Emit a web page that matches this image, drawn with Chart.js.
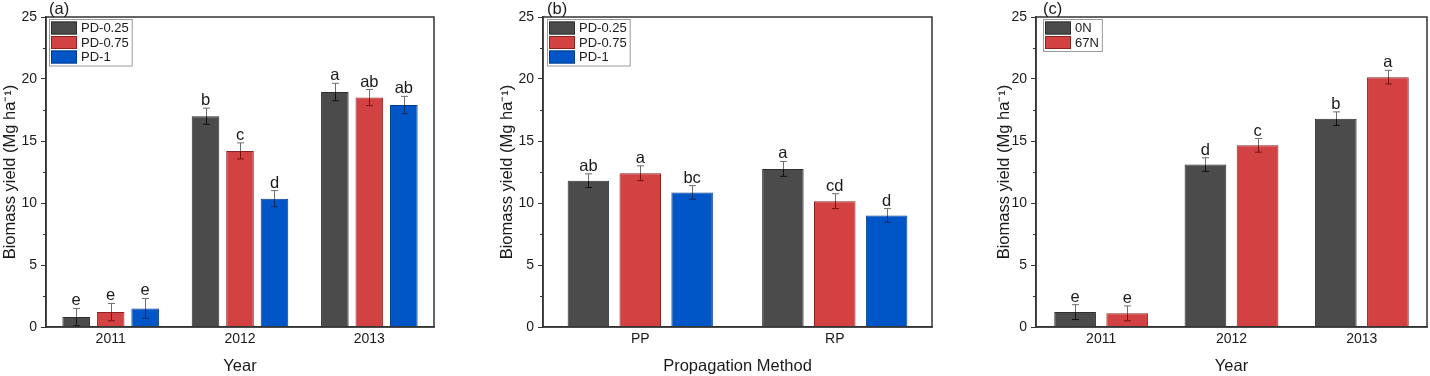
<!DOCTYPE html>
<html>
<head>
<meta charset="utf-8">
<script src="https://cdn.jsdelivr.net/npm/chart.js@4"></script>
<style>
  html, body { margin: 0; padding: 0; background: #fff; }
  #wrap { position: relative; width: 1430px; height: 376px; }
  canvas { position: absolute; top: 0; }
</style>
</head>
<body>
<div id="wrap">
  <canvas id="chart-a" width="470" height="376" style="left:0px"></canvas>
  <canvas id="chart-b" width="480" height="376" style="left:480px"></canvas>
  <canvas id="chart-c" width="470" height="376" style="left:960px"></canvas>
</div>
<script>
// categories
const yearLabels = ['2011', '2012', '2013'];
const methodLabels = ['PP', 'RP'];
const yTickValues = [0, 5, 10, 15, 20, 25];

// panel (a): planting density by year
const yieldA_pd025 = [0.8, 17.0, 18.95];
const yieldA_pd075 = [1.2, 14.2, 18.5];
const yieldA_pd1 = [1.5, 10.35, 17.9];
const errA_pd025 = [0.7, 0.65, 0.7];
const errA_pd075 = [0.7, 0.65, 0.65];
const errA_pd1 = [0.8, 0.65, 0.7];
const lettersA_pd025 = ['e', 'b', 'a'];
const lettersA_pd075 = ['e', 'c', 'ab'];
const lettersA_pd1 = ['e', 'd', 'ab'];

// panel (b): planting density by propagation method
const yieldB_pd025 = [11.8, 12.75];
const yieldB_pd075 = [12.4, 10.15];
const yieldB_pd1 = [10.85, 9.0];
const errB_pd025 = [0.55, 0.6];
const errB_pd075 = [0.6, 0.6];
const errB_pd1 = [0.55, 0.55];
const lettersB_pd025 = ['ab', 'a'];
const lettersB_pd075 = ['a', 'cd'];
const lettersB_pd1 = ['bc', 'd'];

// panel (c): nitrogen rate by year
const yieldC_0N = [1.2, 13.1, 16.8];
const yieldC_67N = [1.1, 14.65, 20.15];
const errC_0N = [0.6, 0.55, 0.55];
const errC_67N = [0.6, 0.55, 0.55];
const lettersC_0N = ['e', 'd', 'b'];
const lettersC_67N = ['e', 'c', 'a'];

const FONT = "'Liberation Sans', Arial, sans-serif";
const TEXT = '#1a1a1a';
const AXIS = '#333';

const styles = {
    grey: { fill: '#4b4b4b', border: '#2e2e2e', err: '#111' },
    red: { fill: '#d34242', border: '#8c2222', err: '#7a1010' },
    blue: { fill: '#0056c6', border: '#003b8a', err: '#0a2a66' }
};

const makeSet = (label, data, errors, letters, style) => ({
    label: label,
    data: data,
    errors: errors,
    letters: letters,
    errColor: style.err,
    backgroundColor: style.fill,
    borderColor: style.border,
    borderWidth: 1,
    borderSkipped: 'bottom'
});

// error bars, significance letters, frame, minor ticks, legend box, panel tag
const decorPlugin = {
    id: 'decor',
    afterDatasetsDraw(chart) {
        const ctx = chart.ctx;
        const y = chart.scales.y;
        chart.data.datasets.forEach((ds, i) => {
            const meta = chart.getDatasetMeta(i);
            meta.data.forEach((bar, j) => {
                const v = ds.data[j];
                const e = ds.errors[j];
                const x = Math.round(bar.x) + 0.5;
                const top = y.getPixelForValue(v + e);
                const bot = y.getPixelForValue(Math.max(v - e, 0));
                const barTop = bar.y;
                ctx.save();
                ctx.lineWidth = 1;
                // part inside the bar
                ctx.strokeStyle = ds.errColor;
                ctx.beginPath();
                ctx.moveTo(x, barTop);
                ctx.lineTo(x, bot);
                ctx.moveTo(x - 3.5, bot);
                ctx.lineTo(x + 3.5, bot);
                ctx.stroke();
                // part above the bar
                ctx.strokeStyle = '#6e6e6e';
                ctx.beginPath();
                ctx.moveTo(x, top);
                ctx.lineTo(x, barTop);
                ctx.moveTo(x - 3.5, top);
                ctx.lineTo(x + 3.5, top);
                ctx.stroke();
                // letter
                ctx.fillStyle = TEXT;
                ctx.font = '16.5px ' + FONT;
                ctx.textAlign = 'center';
                ctx.textBaseline = 'alphabetic';
                ctx.fillText(ds.letters[j], bar.x, top - 3);
                ctx.restore();
            });
        });
    },
    afterDraw(chart, args, opts) {
        const ctx = chart.ctx;
        const area = chart.chartArea;
        const y = chart.scales.y;
        ctx.save();
        // minor ticks
        ctx.strokeStyle = AXIS;
        ctx.lineWidth = 1;
        ctx.beginPath();
        for (let v = 2.5; v < 25; v += 5) {
            const py = Math.round(y.getPixelForValue(v)) + 0.5;
            ctx.moveTo(area.left - 3, py);
            ctx.lineTo(area.left, py);
        }
        ctx.stroke();
        // frame
        ctx.lineWidth = 1.5;
        ctx.strokeRect(area.left, area.top, area.right - area.left, area.bottom - area.top);

        // legend box
        ctx.font = '13px ' + FONT;
        const lx = area.left + opts.legendDx;
        const ly = area.top + 2;
        const rowH = 14.5;
        const textW = Math.max(...chart.data.datasets.map(d => ctx.measureText(d.label).width));
        const boxW = 2 + 26 + 4 + textW + 3;
        const boxH = chart.data.datasets.length * rowH + 3;
        ctx.fillStyle = '#fff';
        ctx.fillRect(lx, ly, boxW, boxH);
        ctx.strokeStyle = '#9a9a9a';
        ctx.lineWidth = 1;
        ctx.strokeRect(lx + 0.5, ly + 0.5, boxW, boxH);
        chart.data.datasets.forEach((d, i) => {
            const ry = ly + 2.5 + i * rowH;
            ctx.fillStyle = d.backgroundColor;
            ctx.fillRect(lx + 2, ry, 26, 13);
            ctx.strokeStyle = d.borderColor;
            ctx.strokeRect(lx + 2.5, ry + 0.5, 25, 12);
            ctx.fillStyle = TEXT;
            ctx.textAlign = 'left';
            ctx.textBaseline = 'middle';
            ctx.fillText(d.label, lx + 32, ry + 7);
        });

        // panel tag
        ctx.font = '16.5px ' + FONT;
        ctx.fillStyle = TEXT;
        ctx.textAlign = 'left';
        ctx.textBaseline = 'middle';
        ctx.fillText(opts.tag, lx, 9);
        ctx.restore();
    }
};

const makeChart = (id, labels, datasets, xTitle, cfg) => {
    return new Chart(document.getElementById(id), {
        type: 'bar',
        data: { labels: labels, datasets: datasets },
        plugins: [decorPlugin],
        options: {
            responsive: false,
            animation: false,
            events: [],
            layout: { padding: { left: 0, top: 17, right: cfg.padRight, bottom: 0 } },
            datasets: { bar: { categoryPercentage: 0.8, barPercentage: 0.8 } },
            plugins: {
                legend: { display: false },
                tooltip: { enabled: false },
                decor: { tag: cfg.tag, legendDx: cfg.legendDx }
            },
            scales: {
                x: {
                    afterFit: (scale) => { scale.height = 49; },
                    grid: { display: false },
                    border: { display: true, color: AXIS, width: 1.5 },
                    ticks: { color: TEXT, font: { family: FONT, size: 14 }, padding: -4 },
                    title: {
                        display: true,
                        text: xTitle,
                        color: TEXT,
                        font: { family: FONT, size: 16.5 },
                        padding: { top: 0, bottom: 0 }
                    }
                },
                y: {
                    min: 0,
                    max: 25,
                    afterFit: (scale) => { scale.width = cfg.yWidth; },
                    afterBuildTicks: (scale) => {
                        scale.ticks = yTickValues.map(v => ({ value: v }));
                    },
                    grid: {
                        display: true,
                        drawOnChartArea: false,
                        drawTicks: true,
                        tickLength: 5,
                        tickColor: AXIS,
                        tickWidth: 1
                    },
                    border: { display: true, color: AXIS, width: 1.5 },
                    ticks: { color: TEXT, font: { family: FONT, size: 14 }, padding: 4 },
                    title: {
                        display: true,
                        text: 'Biomass yield (Mg ha⁻¹)',
                        color: TEXT,
                        font: { family: FONT, size: 16.5 },
                        padding: { top: cfg.titlePad, bottom: 0 }
                    }
                }
            }
        }
    });
};

makeChart('chart-a', yearLabels, [
    makeSet('PD-0.25', yieldA_pd025, errA_pd025, lettersA_pd025, styles.grey),
    makeSet('PD-0.75', yieldA_pd075, errA_pd075, lettersA_pd075, styles.red),
    makeSet('PD-1', yieldA_pd1, errA_pd1, lettersA_pd1, styles.blue)
], 'Year', { padRight: 36, yWidth: 46, titlePad: 1, legendDx: 3, tag: '(a)' });

makeChart('chart-b', methodLabels, [
    makeSet('PD-0.25', yieldB_pd025, errB_pd025, lettersB_pd025, styles.grey),
    makeSet('PD-0.75', yieldB_pd075, errB_pd075, lettersB_pd075, styles.red),
    makeSet('PD-1', yieldB_pd1, errB_pd1, lettersB_pd1, styles.blue)
], 'Propagation Method', { padRight: 28, yWidth: 63, titlePad: 18, legendDx: 4, tag: '(b)' });

makeChart('chart-c', yearLabels, [
    makeSet('0N', yieldC_0N, errC_0N, lettersC_0N, styles.grey),
    makeSet('67N', yieldC_67N, errC_67N, lettersC_67N, styles.red)
], 'Year', { padRight: 3, yWidth: 76, titlePad: 35, legendDx: 7, tag: '(c)' });
</script>
</body>
</html>
